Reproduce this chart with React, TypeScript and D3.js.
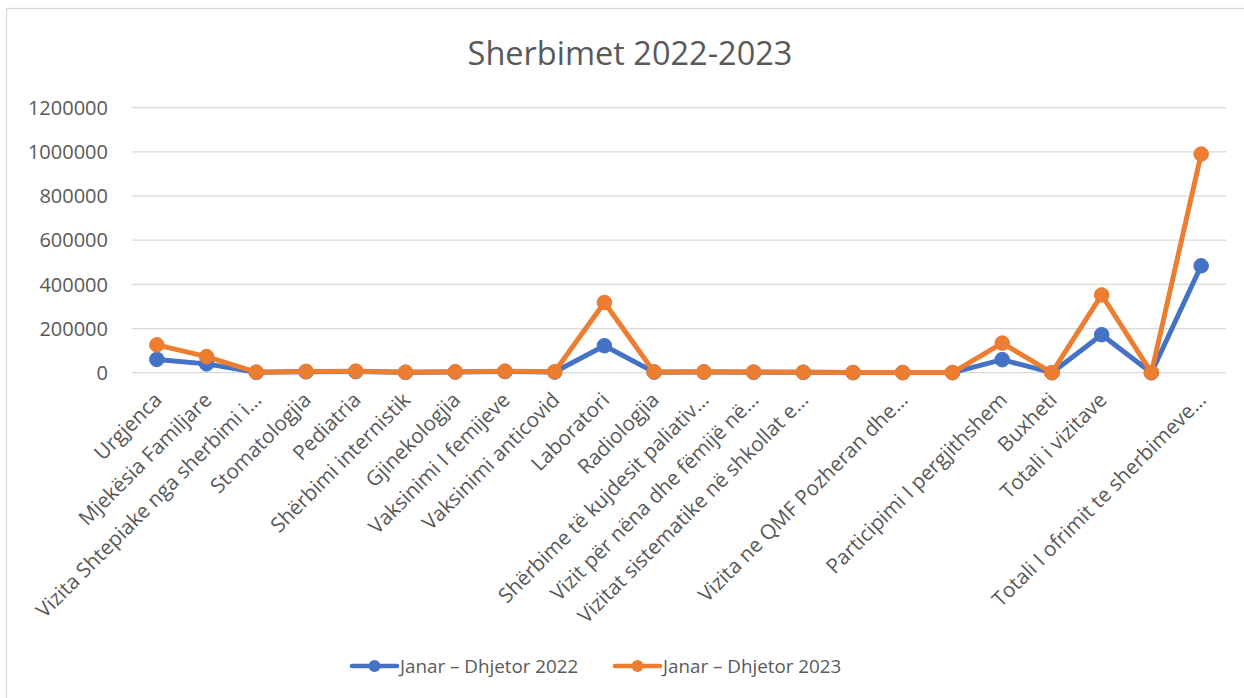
import React, { useRef, useEffect } from "react";
import * as d3 from "d3";

const categories: string[] = [
    "Urgjenca",
    "Mjekësia Familjare",
    "Vizita Shtepiake nga sherbimi i…",
    "Stomatologjia",
    "Pediatria",
    "Shërbimi internistik",
    "Gjinekologjia",
    "Vaksinimi I femijeve",
    "Vaksinimi anticovid",
    "Laboratori",
    "Radiologjia",
    "Shërbime të kujdesit paliativ…",
    "Vizit për nëna dhe fëmijë në…",
    "Vizitat sistematike në shkollat e…",
    "",
    "Vizita ne QMF Pozheran dhe…",
    "",
    "Participimi I pergjithshem",
    "Buxheti",
    "Totali i vizitave",
    "",
    "Totali I ofrimit te sherbimeve…",
];

const values2022: number[] = [
    60000, 40000, 1500, 4000, 5000, 1500, 3000, 5000, 3000, 122000, 2500,
    3000, 2000, 1500, 500, 500, 500, 59000, 0, 172000, 0, 484000,
];

const values2023: number[] = [
    126000, 73000, 2500, 6000, 7000, 2000, 4000, 7000, 4000, 318000, 3500,
    4000, 3000, 2000, 800, 500, 500, 134000, 0, 352000, 0, 990000,
];

const yTicks: number[] = [0, 200000, 400000, 600000, 800000, 1000000, 1200000];

const seriesNames: string[] = ["Janar – Dhjetor 2022", "Janar – Dhjetor 2023"];
const seriesColors: string[] = ["#4472C4", "#ED7D31"];

const FONT = "'Open Sans', sans-serif";

const App = () => {
    const svgRef = useRef<SVGSVGElement>(null);

    useEffect(() => {
        const svg = d3.select(svgRef.current);
        svg.selectAll("*").remove();

        const width = 1244;
        const height = 698;
        const plot = { left: 132, right: 1226, top: 107.7, bottom: 372.7 };

        svg.attr("width", width).attr("height", height);

        // chart frame
        svg.append("rect")
            .attr("x", 6.5)
            .attr("y", 8.5)
            .attr("width", 1260)
            .attr("height", 720)
            .attr("fill", "#fff")
            .attr("stroke", "#D9D9D9")
            .attr("stroke-width", 1.3);

        // title
        svg.append("text")
            .attr("x", 630)
            .attr("y", 65)
            .attr("text-anchor", "middle")
            .attr("font-family", FONT)
            .attr("font-size", 32.5)
            .attr("fill", "#595959")
            .text("Sherbimet 2022-2023");

        const idx = categories.map((_, i) => i);
        const xScale = d3
            .scaleBand<number>()
            .domain(idx)
            .range([plot.left, plot.right])
            .padding(0);
        const cx = (i: number) => (xScale(i) as number) + xScale.bandwidth() / 2;

        const yScale = d3
            .scaleLinear()
            .domain([0, 1200000])
            .range([plot.bottom, plot.top]);

        // gridlines
        svg.append("g")
            .selectAll("line")
            .data(yTicks)
            .enter()
            .append("line")
            .attr("x1", plot.left)
            .attr("x2", plot.right)
            .attr("y1", d => yScale(d))
            .attr("y2", d => yScale(d))
            .attr("stroke", "#D9D9D9")
            .attr("stroke-width", 1.3);

        // y labels
        svg.append("g")
            .selectAll("text")
            .data(yTicks)
            .enter()
            .append("text")
            .attr("x", 108)
            .attr("y", d => yScale(d))
            .attr("dy", "0.36em")
            .attr("text-anchor", "end")
            .attr("font-family", FONT)
            .attr("font-size", 20)
            .attr("fill", "#595959")
            .text(d => String(d));

        // x labels, rotated
        svg.append("g")
            .selectAll("text")
            .data(idx)
            .enter()
            .append("text")
            .attr("transform", i => `translate(${cx(i) + 1}, 396) rotate(-45)`)
            .attr("dy", "0.36em")
            .attr("text-anchor", "end")
            .attr("font-family", FONT)
            .attr("font-size", 20.6)
            .attr("fill", "#595959")
            .text(i => categories[i]);

        // series
        const allSeries = [values2022, values2023];
        const line = d3
            .line<number>()
            .x((_, i) => cx(i))
            .y(d => yScale(d));

        allSeries.forEach((vals, s) => {
            const g = svg.append("g");
            g.append("path")
                .datum(vals)
                .attr("d", line)
                .attr("fill", "none")
                .attr("stroke", seriesColors[s])
                .attr("stroke-width", 5)
                .attr("stroke-linejoin", "round")
                .attr("stroke-linecap", "round");
            g.selectAll("circle")
                .data(vals)
                .enter()
                .append("circle")
                .attr("cx", (_, i) => cx(i))
                .attr("cy", d => yScale(d))
                .attr("r", 7.3)
                .attr("fill", seriesColors[s])
                .attr("stroke", seriesColors[s])
                .attr("stroke-width", 1);
        });

        // legend
        const legendItems = [
            { x: 350, name: seriesNames[0], color: seriesColors[0] },
            { x: 613, name: seriesNames[1], color: seriesColors[1] },
        ];
        const lg = svg.append("g");
        legendItems.forEach(item => {
            lg.append("line")
                .attr("x1", item.x + 2)
                .attr("x2", item.x + 47)
                .attr("y1", 666)
                .attr("y2", 666)
                .attr("stroke", item.color)
                .attr("stroke-width", 4.5)
                .attr("stroke-linecap", "round");
            lg.append("circle")
                .attr("cx", item.x + 24.5)
                .attr("cy", 666)
                .attr("r", 6)
                .attr("fill", item.color);
            lg.append("text")
                .attr("x", item.x + 50)
                .attr("y", 673)
                .attr("font-family", FONT)
                .attr("font-size", 18.8)
                .attr("fill", "#595959")
                .text(item.name);
        });
    }, []);

    return <svg ref={svgRef} style={{ position: "absolute", left: 0, top: 0 }}></svg>;
};

export default App;
